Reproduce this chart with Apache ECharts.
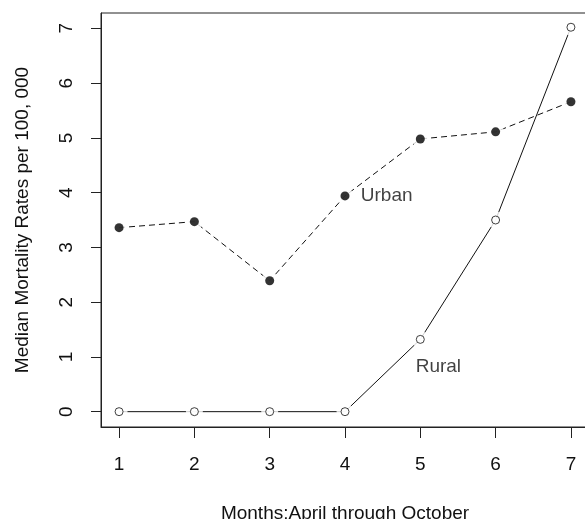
<!DOCTYPE html>
<html>
<head>
<meta charset="utf-8">
<script src="https://cdn.jsdelivr.net/npm/echarts@6/dist/echarts.min.js"></script>
<style>html,body{margin:0;padding:0;background:#fff;}#c{width:585px;height:519px;}</style>
</head>
<body>
<div id="c"></div>
<script>
var months = [1, 2, 3, 4, 5, 6, 7];
var urban = [3.36, 3.47, 2.39, 3.94, 4.98, 5.11, 5.66];
var rural = [0, 0, 0, 0, 1.32, 3.50, 7.02];
var xTicks = [1, 2, 3, 4, 5, 6, 7];
var yTicks = [0, 1, 2, 3, 4, 5, 6, 7];
var urbanLabel = [4.21, 3.94];
var ruralLabel = [5.24, 0.82];

var FONT = 'Liberation Sans, Arial, sans-serif';
var TXT = '#111';
function pts(ys) { return months.map(function (m, i) { return [m, ys[i]]; }); }

var chart = echarts.init(document.getElementById('c'), null, {renderer: 'canvas'});
chart.setOption({
  animation: false,
  backgroundColor: '#fff',
  grid: {left: 101, top: 13, height: 414, width: 488, outerBoundsMode: 'none',
         show: true, borderColor: '#222', borderWidth: 1, containLabel: false},
  xAxis: {
    type: 'value', min: 0.76, max: 7.24,
    name: 'Months:April through October', nameLocation: 'middle', nameGap: 77,
    nameTextStyle: {fontFamily: FONT, fontSize: 19, color: TXT},
    axisLine: {show: true, onZero: false, lineStyle: {color: '#222', width: 1}},
    axisTick: {show: true, length: 11, customValues: xTicks, lineStyle: {color: '#222'}},
    axisLabel: {customValues: xTicks, margin: 28, fontFamily: FONT, fontSize: 19, color: TXT},
    splitLine: {show: false}
  },
  yAxis: {
    type: 'value', min: -0.28, max: 7.28,
    name: 'Median Mortality Rates per 100, 000', nameLocation: 'middle', nameGap: 69, nameRotate: 90,
    nameTextStyle: {fontFamily: FONT, fontSize: 19, color: TXT},
    axisLine: {show: true, onZero: false, lineStyle: {color: '#222', width: 1}},
    axisTick: {show: true, length: 10, customValues: yTicks, lineStyle: {color: '#222'}},
    axisLabel: {customValues: yTicks, rotate: 90, margin: 25, fontFamily: FONT, fontSize: 19, color: TXT},
    splitLine: {show: false}
  },
  series: [
    {type: 'line', name: 'Rural', data: pts(rural), showSymbol: false, z: 2,
     lineStyle: {color: '#111', width: 1, type: 'solid'}},
    {type: 'line', name: 'Urban', data: pts(urban), showSymbol: false, z: 2,
     lineStyle: {color: '#111', width: 1, type: [6, 4]}},
    {type: 'scatter', data: pts(rural).concat(pts(urban)), symbol: 'circle', symbolSize: 17, z: 3,
     itemStyle: {color: '#fff'}, silent: true},
    {type: 'scatter', name: 'RuralPts', data: pts(rural), symbol: 'circle', symbolSize: 8, z: 4,
     itemStyle: {color: '#fff', borderColor: '#111', borderWidth: 1}},
    {type: 'scatter', name: 'UrbanPts', data: pts(urban), symbol: 'circle', symbolSize: 9, z: 4,
     itemStyle: {color: '#000'}},
    {type: 'scatter', data: [{value: urbanLabel, name: 'Urban'}], symbolSize: 0, z: 5,
     label: {show: true, position: 'right', distance: 0, formatter: '{b}', fontFamily: FONT, fontSize: 19, color: TXT}},
    {type: 'scatter', data: [{value: ruralLabel, name: 'Rural'}], symbolSize: 0, z: 5,
     label: {show: true, position: 'inside', formatter: '{b}', fontFamily: FONT, fontSize: 19, color: TXT}}
  ]
});
</script>
</body>
</html>
